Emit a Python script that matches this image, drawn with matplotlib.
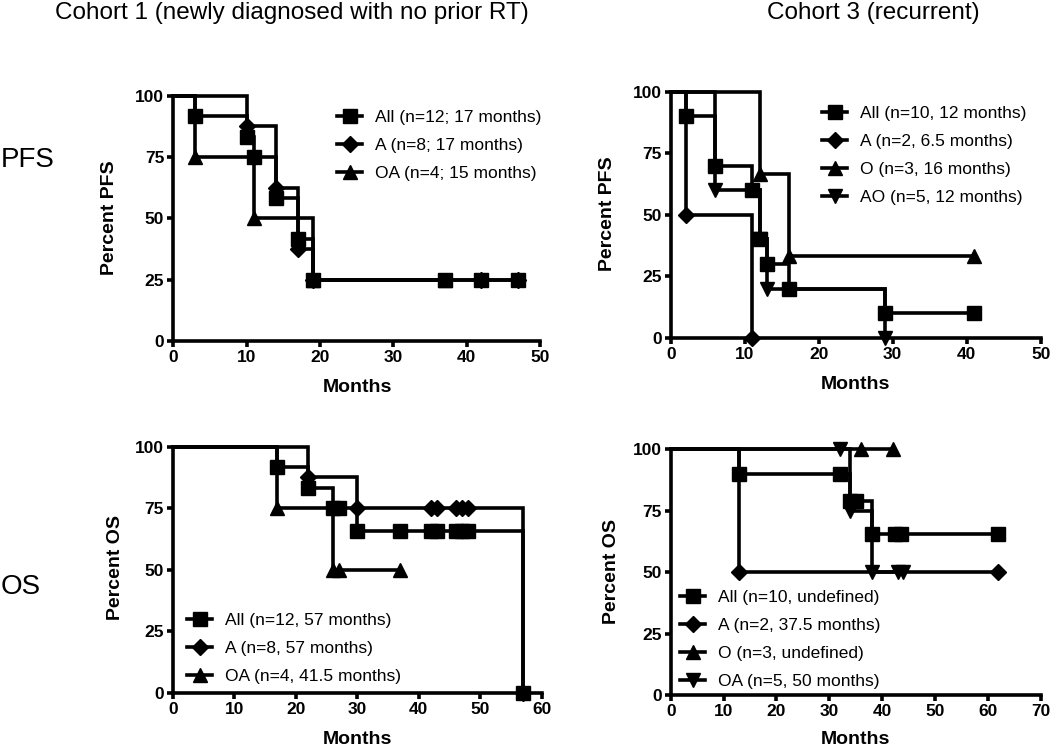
import matplotlib
matplotlib.use("Agg")
import matplotlib.pyplot as plt
from matplotlib.lines import Line2D

plt.rcParams["font.family"] = ["Liberation Sans", "DejaVu Sans"]

W, H = 1050, 749

# ---- Cohort 1, PFS (months, percent) ----
c1_pfs_all_t = [0, 3, 10, 11, 14, 17, 19]
c1_pfs_all_s = [100, 91.7, 83.3, 75, 58.3, 41.7, 25]
c1_pfs_all_cens = [37, 42, 47]
c1_pfs_a_t = [0, 10, 14, 17, 19]
c1_pfs_a_s = [100, 87.5, 62.5, 37.5, 25]
c1_pfs_a_cens = [42, 47]
c1_pfs_oa_t = [0, 3, 11, 19]
c1_pfs_oa_s = [100, 75, 50, 25]
c1_pfs_oa_cens = [37]
c1_pfs_labels = ["All (n=12; 17 months)", "A (n=8; 17 months)", "OA (n=4; 15 months)"]

# ---- Cohort 3, PFS ----
c3_pfs_all_t = [0, 2, 6, 11, 12, 13, 16, 29]
c3_pfs_all_s = [100, 90, 70, 60, 40, 30, 20, 10]
c3_pfs_all_cens = [41]
c3_pfs_a_t = [0, 2, 11]
c3_pfs_a_s = [100, 50, 0]
c3_pfs_a_cens = []
c3_pfs_o_t = [0, 12, 16]
c3_pfs_o_s = [100, 66.7, 33.3]
c3_pfs_o_cens = [41]
c3_pfs_ao_t = [0, 6, 12, 13, 29]
c3_pfs_ao_s = [100, 60, 40, 20, 0]
c3_pfs_ao_cens = []
c3_pfs_labels = ["All (n=10, 12 months)", "A (n=2, 6.5 months)",
                 "O (n=3, 16 months)", "AO (n=5, 12 months)"]

# ---- Cohort 1, OS ----
c1_os_all_t = [0, 17, 22, 26, 30, 57]
c1_os_all_s = [100, 91.7, 83.3, 75, 65.6, 0]
c1_os_all_cens = [27, 37, 42, 43, 46, 47, 48]
c1_os_a_t = [0, 22, 30, 57]
c1_os_a_s = [100, 87.5, 75, 0]
c1_os_a_cens = [42, 43, 46, 47, 48]
c1_os_oa_t = [0, 17, 26]
c1_os_oa_s = [100, 75, 50]
c1_os_oa_cens = [27, 37]
c1_os_labels = ["All (n=12, 57 months)", "A (n=8, 57 months)", "OA (n=4, 41.5 months)"]

# ---- Cohort 3, OS ----
c3_os_all_t = [0, 13, 34, 38]
c3_os_all_s = [100, 90, 78.75, 65.6]
c3_os_all_cens = [32, 35, 42.5, 43.5, 62]
c3_os_a_t = [0, 13]
c3_os_a_s = [100, 50]
c3_os_a_cens = [62]
c3_os_o_t = [0]
c3_os_o_s = [100]
c3_os_o_cens = [36, 42]
c3_os_oa_t = [0, 34, 38]
c3_os_oa_s = [100, 75, 50]
c3_os_oa_cens = [32, 43, 44]
c3_os_labels = ["All (n=10, undefined)", "A (n=2, 37.5 months)",
                "O (n=3, undefined)", "OA (n=5, 50 months)"]

MARKERS = {"s": 10, "D": 8.5, "^": 10, "v": 10}
LW = 2.6


def fx(px):
    return px / W


def fy(py):
    return 1 - py / H


def make_axes(fig, x0, y0, x1, y1):
    return fig.add_axes([fx(x0), fy(y1), (x1 - x0) / W, (y1 - y0) / H])


def level_at(t, s, c):
    # survival value of the step curve at time c
    val = s[0]
    for ti, si in zip(t, s):
        if ti <= c:
            val = si
    return val


def km(ax, t, s, cens, marker):
    end = max([t[-1]] + list(cens))
    xs = list(t) + [end]
    ys = list(s) + [s[-1]]
    ax.step(xs, ys, where="post", color="black", lw=LW, clip_on=False,
            solid_joinstyle="miter")
    mx = list(t[1:]) + list(cens)
    my = list(s[1:]) + [level_at(t, s, c) for c in cens]
    ax.plot(mx, my, ls="none", marker=marker, ms=MARKERS[marker],
            color="black", clip_on=False)


def style(ax, xmax):
    ax.set_xlim(0, xmax)
    ax.set_ylim(0, 100)
    ax.set_xticks(range(0, xmax + 1, 10))
    ax.set_yticks([0, 25, 50, 75, 100])
    for side in ["top", "right"]:
        ax.spines[side].set_visible(False)
    for side in ["left", "bottom"]:
        ax.spines[side].set_linewidth(LW)
    ax.tick_params(width=LW, length=4.5, pad=2, labelsize=12.5)
    for lab in ax.get_xticklabels() + ax.get_yticklabels():
        lab.set_fontweight("bold")


def legend(ax, labels, markers, px, py):
    handles = [Line2D([], [], color="black", lw=LW, marker=m, ms=MARKERS[m])
               for m in markers]
    ax.legend(handles, labels, loc="upper left", bbox_to_anchor=(fx(px), fy(py)),
              bbox_transform=ax.figure.transFigure, frameon=False, fontsize=12.5,
              borderpad=0, borderaxespad=0, handlelength=1.45, handletextpad=0.75,
              labelspacing=0.74, numpoints=1)


fig = plt.figure(figsize=(W / 100, H / 100), dpi=100)

# top-left: cohort 1 PFS
ax1 = make_axes(fig, 173.3, 95.7, 540, 341)
km(ax1, c1_pfs_oa_t, c1_pfs_oa_s, c1_pfs_oa_cens, "^")
km(ax1, c1_pfs_a_t, c1_pfs_a_s, c1_pfs_a_cens, "D")
km(ax1, c1_pfs_all_t, c1_pfs_all_s, c1_pfs_all_cens, "s")
style(ax1, 50)
legend(ax1, c1_pfs_labels, ["s", "D", "^"], 337, 110)

# top-right: cohort 3 PFS
ax2 = make_axes(fig, 670.7, 91.7, 1040.7, 338)
km(ax2, c3_pfs_ao_t, c3_pfs_ao_s, c3_pfs_ao_cens, "v")
km(ax2, c3_pfs_o_t, c3_pfs_o_s, c3_pfs_o_cens, "^")
km(ax2, c3_pfs_a_t, c3_pfs_a_s, c3_pfs_a_cens, "D")
km(ax2, c3_pfs_all_t, c3_pfs_all_s, c3_pfs_all_cens, "s")
style(ax2, 50)
legend(ax2, c3_pfs_labels, ["s", "D", "^", "v"], 822, 106)

# bottom-left: cohort 1 OS
ax3 = make_axes(fig, 173, 446.7, 541.7, 692.7)
km(ax3, c1_os_oa_t, c1_os_oa_s, c1_os_oa_cens, "^")
km(ax3, c1_os_a_t, c1_os_a_s, c1_os_a_cens, "D")
km(ax3, c1_os_all_t, c1_os_all_s, c1_os_all_cens, "s")
style(ax3, 60)
legend(ax3, c1_os_labels, ["s", "D", "^"], 187, 613)

# bottom-right: cohort 3 OS
ax4 = make_axes(fig, 670.7, 449, 1040.7, 695.3)
km(ax4, c3_os_oa_t, c3_os_oa_s, c3_os_oa_cens, "v")
km(ax4, c3_os_o_t, c3_os_o_s, c3_os_o_cens, "^")
km(ax4, c3_os_a_t, c3_os_a_s, c3_os_a_cens, "D")
km(ax4, c3_os_all_t, c3_os_all_s, c3_os_all_cens, "s")
style(ax4, 70)
legend(ax4, c3_os_labels, ["s", "D", "^", "v"], 680, 590)

# axis labels
fig.text(fx(110), fy(218), "Percent PFS", rotation=90, ha="center", va="center",
         fontsize=14, fontweight="bold")
fig.text(fx(607.5), fy(214), "Percent PFS", rotation=90, ha="center", va="center",
         fontsize=14, fontweight="bold")
fig.text(fx(115), fy(567), "Percent OS", rotation=90, ha="center", va="center",
         fontsize=14, fontweight="bold")
fig.text(fx(612), fy(571), "Percent OS", rotation=90, ha="center", va="center",
         fontsize=14, fontweight="bold")
for x, y in [(357.5, 388), (855, 385), (357.5, 740), (855, 740)]:
    fig.text(fx(x), fy(y), "Months", ha="center", va="center",
             fontsize=14, fontweight="bold")

# column titles and row labels
fig.text(fx(55), fy(13), "Cohort 1 (newly diagnosed with no prior RT)",
         ha="left", va="center", fontsize=17.5)
fig.text(fx(766.7), fy(13), "Cohort 3 (recurrent)", ha="left", va="center",
         fontsize=17.5)
fig.text(fx(1), fy(160), "PFS", ha="left", va="center", fontsize=20)
fig.text(fx(1), fy(587), "OS", ha="left", va="center", fontsize=20)

fig.savefig("out.png", dpi=100)
